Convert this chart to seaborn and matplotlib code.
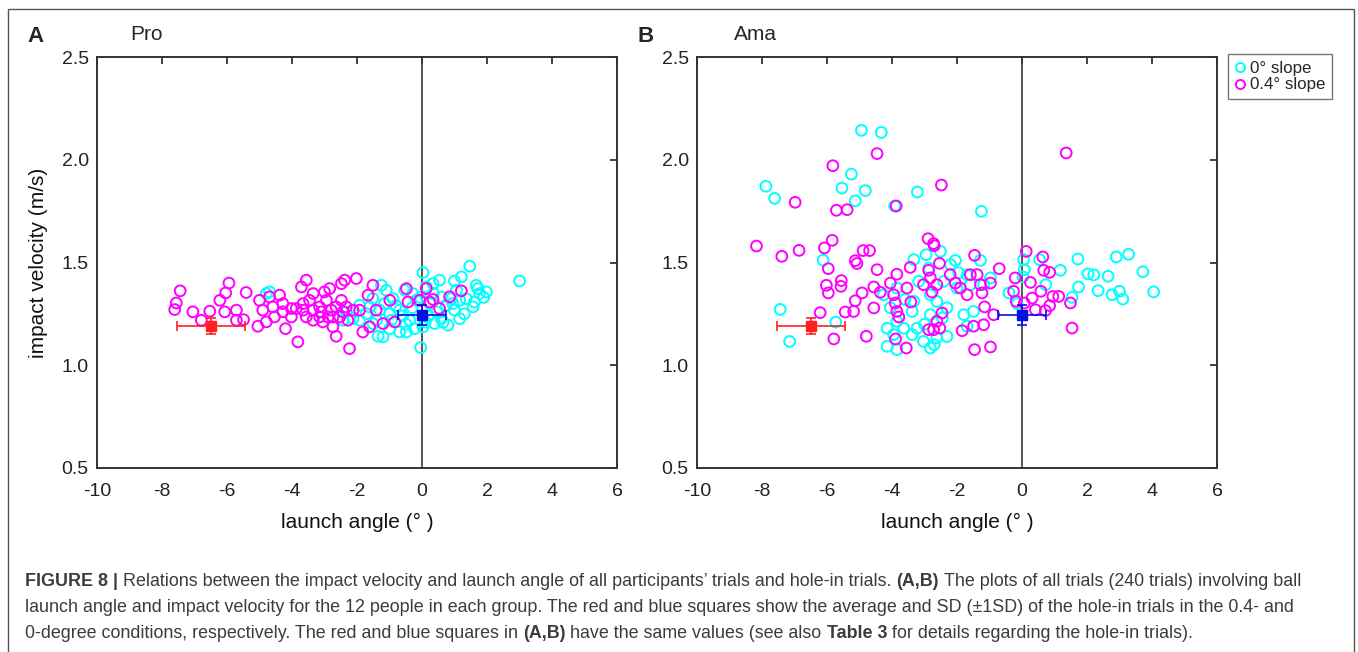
import numpy as np
import pandas as pd
import matplotlib
matplotlib.use("Agg")
import matplotlib.pyplot as plt
from matplotlib.lines import Line2D
from matplotlib.patches import Rectangle
import seaborn as sns

sns.set_theme(style="white")
plt.rcParams['font.family'] = ['Liberation Sans', 'DejaVu Sans']
plt.rcParams['axes.unicode_minus'] = False

# ---- data ----
# Pro, 0 deg slope (cyan)
pro_flat_x = [3.0, 1.47, 0.03, -0.04, 1.98, 1.67, 1.72, 1.21, 1.0, 0.54, 0.34, 1.16, 1.57, 1.36, 1.0,
              0.8, 1.16, 0.39, -0.48, -0.69, -1.2, -1.35, -0.99, -1.1, -1.51, -0.89, -1.3, -1.71, -1.92,
              -2.12, -0.69, -0.38, -0.17, 0.24, 0.59, -4.79, -4.69, -1.51, -0.94, -0.23, 0.03, 0.59, 0.75,
              -0.53, -1.25, 1.06, 0.9, 1.77, 1.62, 0.13, -0.28, -1.61, -1.92, -2.43, -2.33, -1.0, -0.6,
              -0.3, 0.2, 0.45, -1.4, -0.8, 0.1, -0.5, 0.65, 1.3, 0.95, -1.15, -0.05, 0.35, 1.9]
pro_flat_y = [1.41, 1.482, 1.451, 1.086, 1.357, 1.389, 1.373, 1.43, 1.41, 1.414, 1.397, 1.316, 1.284,
              1.324, 1.268, 1.195, 1.227, 1.203, 1.162, 1.162, 1.138, 1.141, 1.178, 1.365, 1.324, 1.324,
              1.268, 1.251, 1.292, 1.227, 1.268, 1.219, 1.316, 1.30, 1.332, 1.349, 1.357, 1.203, 1.219,
              1.178, 1.187, 1.227, 1.292, 1.365, 1.389, 1.365, 1.324, 1.349, 1.308, 1.381, 1.349, 1.284,
              1.219, 1.219, 1.26, 1.25, 1.24, 1.28, 1.24, 1.26, 1.22, 1.29, 1.21, 1.2, 1.21, 1.25, 1.3,
              1.3, 1.33, 1.35, 1.33]
# Pro, 0.4 deg slope (magenta)
pro_slope_x = [-7.44, -7.56, -7.61, -7.05, -6.53, -6.79, -6.22, -6.04, -5.94, -6.07, -5.71, -5.71, -5.49,
               -5.41, -5.0, -5.05, -4.9, -4.79, -4.69, -4.59, -4.54, -4.38, -4.28, -4.2, -4.28, -3.87,
               -3.82, -3.71, -3.56, -3.66, -3.35, -3.35, -3.15, -3.05, -3.0, -2.84, -2.79, -2.74, -2.64,
               -2.53, -2.48, -2.38, -2.48, -2.33, -2.23, -2.02, -2.12, -1.92, -1.82, -1.61, -1.66, -1.51,
               -1.41, -1.2, -0.99, -0.84, -0.48, -0.43, -0.07, 0.13, 0.24, 0.34, 0.54, 0.85, 1.21, -3.66,
               -3.46, -3.1, -2.94, -2.64, -2.43, -2.74, -2.28, -2.89, -3.15, -4.02, -3.56, -3.35, -4.02]
pro_slope_y = [1.362, 1.303, 1.271, 1.26, 1.263, 1.219, 1.316, 1.352, 1.40, 1.26, 1.268, 1.219, 1.222,
               1.354, 1.316, 1.19, 1.268, 1.211, 1.333, 1.284, 1.235, 1.341, 1.30, 1.178, 1.26, 1.276,
               1.114, 1.381, 1.414, 1.268, 1.349, 1.219, 1.284, 1.211, 1.357, 1.373, 1.268, 1.187, 1.141,
               1.235, 1.397, 1.414, 1.316, 1.284, 1.081, 1.422, 1.268, 1.268, 1.162, 1.187, 1.341, 1.389,
               1.268, 1.203, 1.316, 1.211, 1.373, 1.308, 1.316, 1.373, 1.308, 1.32, 1.276, 1.333, 1.362,
               1.30, 1.316, 1.26, 1.316, 1.284, 1.26, 1.235, 1.219, 1.235, 1.235, 1.235, 1.235, 1.268,
               1.276]

# Ama, 0 deg slope (cyan)
ama_flat_x = [-4.94, -4.33, -7.88, -7.61, -5.25, -5.54, -4.82, -5.13, -3.22, -3.92, -1.25, -6.12, -7.44,
              -7.15, -5.73, 1.72, 2.90, 3.28, 3.72, 4.05, 1.18, 2.03, 2.21, 2.65, 2.34, 1.74, 1.54, 2.77,
              3.10, 3.0, -0.4, 0.05, 0.07, 0.03, 0.54, 0.73, -0.15, -3.33, -2.95, -2.51, -2.05, -1.28,
              -2.2, -1.69, -0.97, -4.15, -3.95, -4.15, -3.85, -3.23, -3.03, -2.82, -2.62, -2.31, -3.38,
              -3.64, -3.85, -4.05, -2.82, -2.62, -2.82, -2.31, -3.38, -3.33, -1.79, -1.49, -1.59, -1.18,
              -1.69, -2.87, -3.18, -3.85, -4.26, -2.41, -2.0, -2.7, -3.6, -1.95, -2.45, -3.0]
ama_flat_y = [2.143, 2.133, 1.871, 1.812, 1.93, 1.862, 1.85, 1.80, 1.843, 1.775, 1.749, 1.511, 1.272,
              1.116, 1.21, 1.517, 1.527, 1.54, 1.455, 1.357, 1.462, 1.444, 1.44, 1.433, 1.363, 1.381,
              1.33, 1.343, 1.322, 1.36, 1.352, 1.514, 1.465, 1.43, 1.514, 1.392, 1.30, 1.514, 1.538,
              1.554, 1.51, 1.51, 1.49, 1.44, 1.425, 1.18, 1.149, 1.092, 1.076, 1.18, 1.116, 1.084, 1.133,
              1.14, 1.149, 1.18, 1.214, 1.28, 1.246, 1.311, 1.343, 1.28, 1.262, 1.311, 1.246, 1.262,
              1.392, 1.392, 1.19, 1.473, 1.408, 1.376, 1.343, 1.408, 1.376, 1.10, 1.32, 1.45, 1.23, 1.2]
# Ama, 0.4 deg slope (magenta)
ama_slope_x = [-4.46, -5.82, -2.48, 1.36, -6.98, -5.71, -5.38, -3.87, -8.17, -7.39, -6.86, -6.08, -5.84,
               -5.96, -6.02, -5.96, -5.56, -5.57, -6.21, -5.79, -5.13, -5.08, -4.89, -4.69, -4.46, -4.56,
               -4.36, -5.13, -4.92, -5.18, -5.44, -4.56, -4.79, -3.85, -4.05, -3.95, -3.9, -3.79, -3.85,
               -3.89, -3.56, -3.44, -3.54, -3.42, -2.89, -2.72, -2.7, -2.54, -2.87, -2.82, -2.62, -3.03,
               -2.77, -2.46, -2.62, -2.87, -2.72, -2.53, -2.21, -2.05, -1.9, -1.69, -1.59, -1.38, -1.46,
               -1.28, -1.23, -0.97, -0.70, -1.15, -0.87, -1.18, -1.49, -1.84, -1.46, -0.97, -0.21, -0.26,
               -0.18, 0.13, 0.26, 0.31, 0.07, 0.64, 0.67, 0.85, 0.58, 0.95, 1.13, 0.85, 0.72, 1.49, 1.54,
               0.41]
ama_slope_y = [2.03, 1.971, 1.877, 2.033, 1.793, 1.754, 1.757, 1.775, 1.58, 1.53, 1.559, 1.571, 1.608,
               1.47, 1.389, 1.352, 1.412, 1.384, 1.256, 1.128, 1.509, 1.495, 1.558, 1.558, 1.465, 1.381,
               1.355, 1.314, 1.352, 1.262, 1.259, 1.279, 1.141, 1.443, 1.40, 1.343, 1.303, 1.235, 1.262,
               1.128, 1.084, 1.476, 1.376, 1.308, 1.616, 1.592, 1.582, 1.496, 1.462, 1.425, 1.392, 1.392,
               1.356, 1.254, 1.214, 1.173, 1.173, 1.181, 1.441, 1.40, 1.376, 1.343, 1.441, 1.441, 1.535,
               1.392, 1.352, 1.40, 1.47, 1.284, 1.246, 1.197, 1.19, 1.168, 1.076, 1.089, 1.425, 1.36,
               1.311, 1.554, 1.403, 1.327, 1.303, 1.527, 1.462, 1.452, 1.36, 1.335, 1.335, 1.29, 1.266,
               1.303, 1.181, 1.27]

# hole-in trials: mean and SD (same in both panels)
hole_x = [-6.5, 0.0]
hole_y = [1.19, 1.245]
hole_xsd = [1.05, 0.75]
hole_ysd = [0.04, 0.05]
hole_colors = ["#ff2020", "#0010e0"]

conditions = ["0° slope", "0.4° slope"]
palette = {"0° slope": "#00ffff", "0.4° slope": "#ff00ff"}


def make_frame(fx, fy, sx, sy):
    a = pd.DataFrame({"angle": fx, "velocity": fy, "cond": conditions[0]})
    b = pd.DataFrame({"angle": sx, "velocity": sy, "cond": conditions[1]})
    return pd.concat([a, b], ignore_index=True)


fig = plt.figure(figsize=(13.58, 6.52), dpi=100)
ax_a = fig.add_axes([97 / 1358, 184 / 652, 520 / 1358, 411 / 652])
ax_b = fig.add_axes([697 / 1358, 184 / 652, 520 / 1358, 411 / 652])

panels = [(ax_a, make_frame(pro_flat_x, pro_flat_y, pro_slope_x, pro_slope_y)),
          (ax_b, make_frame(ama_flat_x, ama_flat_y, ama_slope_x, ama_slope_y))]

for ax, df in panels:
    ax.axvline(0, color="#3a3a3a", lw=1.2, zorder=1)
    sns.scatterplot(data=df, x="angle", y="velocity", hue="cond", palette=palette,
                    s=60, linewidth=1.4, legend=False, ax=ax, zorder=2)
    pc = ax.collections[-1]
    pc.set_edgecolors(pc.get_facecolors())
    pc.set_facecolors("none")
    for i in range(len(hole_x)):
        ax.errorbar(hole_x[i], hole_y[i], xerr=hole_xsd[i], yerr=hole_ysd[i], fmt="s",
                    color=hole_colors[i], ms=7, lw=1.2, capsize=3.5, capthick=1.2, zorder=3)
    ax.set_xlim(-10, 6)
    ax.set_ylim(0.5, 2.5)
    ax.set_xticks(np.arange(-10, 7, 2))
    ax.set_yticks([0.5, 1.0, 1.5, 2.0, 2.5])
    ax.set_yticklabels(["0.5", "1.0", "1.5", "2.0", "2.5"])
    ax.tick_params(direction="in", length=5, width=1.2, top=True, right=True,
                   labelsize=14, colors="#222222", pad=6)
    ax.tick_params(axis="x", pad=11)
    for sp in ax.spines.values():
        sp.set_color("#333333")
        sp.set_linewidth(1.4)
    ax.set_xlabel("launch angle (° )", fontsize=15, color="#111111", labelpad=9)
    ax.set_ylabel("")

ax_a.set_ylabel("impact velocity (m/s)", fontsize=15, color="#111111", labelpad=10)

# panel letters and titles
fig.text(35 / 1358, 1 - 37 / 652, "A", fontsize=16, fontweight="bold", ha="center", va="center")
fig.text(147 / 1358, 1 - 35 / 652, "Pro", fontsize=15, ha="center", va="center")
fig.text(646 / 1358, 1 - 37 / 652, "B", fontsize=16, fontweight="bold", ha="center", va="center")
fig.text(755 / 1358, 1 - 35 / 652, "Ama", fontsize=15, ha="center", va="center")

handles = [Line2D([], [], ls="none", marker="o", ms=6.5, mfc="none", mew=1.4, mec=palette[c])
           for c in conditions]
leg = fig.legend(handles, conditions, loc="upper left", bbox_to_anchor=(1228 / 1358, 1 - 54 / 652),
                 fontsize=12.2, frameon=True, fancybox=False, handlelength=0.6, handletextpad=0.3,
                 borderpad=0.4, labelspacing=0.1, borderaxespad=0)
leg.get_frame().set_edgecolor("#555555")
leg.get_frame().set_linewidth(1.0)

# outer frame
fig.patches.append(Rectangle((8 / 1358, -0.05), 1346 / 1358, 1.05 - 9 / 652, transform=fig.transFigure,
                             fill=False, edgecolor="#555555", lw=1.0))

# caption, built from bold / regular pieces
cap_lines = [
    [("FIGURE 8 |", "bold"), ("Relations between the impact velocity and launch angle of all participants’ trials and hole-in trials.", "normal"),
     ("(A,B)", "bold"), ("The plots of all trials (240 trials) involving ball", "normal")],
    [("launch angle and impact velocity for the 12 people in each group. The red and blue squares show the average and SD (±1SD) of the hole-in trials in the 0.4- and", "normal")],
    [("0-degree conditions, respectively. The red and blue squares in", "normal"), ("(A,B)", "bold"),
     ("have the same values (see also", "normal"), ("Table 3", "bold"),
     ("for details regarding the hole-in trials).", "normal")],
]
cap_y = [582, 608, 633]
cap_size = 12.9
renderer = fig.canvas.get_renderer()
probe1 = fig.text(0, 0, "x x", fontsize=cap_size)
probe2 = fig.text(0, 0, "xx", fontsize=cap_size)
space_w = probe1.get_window_extent(renderer).width - probe2.get_window_extent(renderer).width
probe1.remove()
probe2.remove()
for line, yy in zip(cap_lines, cap_y):
    x_px = 25
    for seg, wt in line:
        t = fig.text(x_px / 1358, 1 - yy / 652, seg, fontsize=cap_size, fontweight=wt,
                     color="#3c3c3c", ha="left", va="center")
        x_px += t.get_window_extent(renderer).width + space_w

fig.savefig("out.png", dpi=100)
